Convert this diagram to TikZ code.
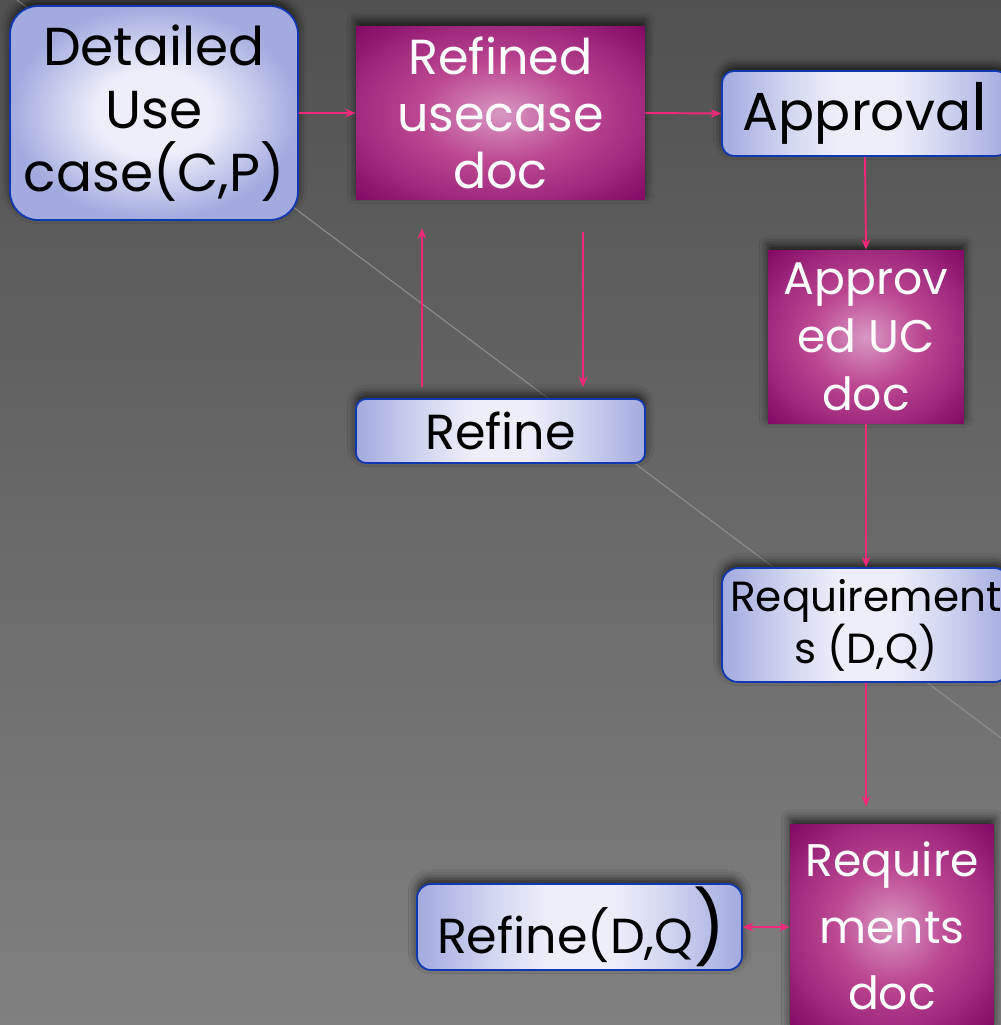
\documentclass[tikz,border=0pt]{standalone}
\usepackage{fontspec}
\setmainfont{Poppins}
\usetikzlibrary{positioning,shadows.blur,arrows.meta}
\definecolor{bgtop}{HTML}{515151}
\definecolor{bgbot}{HTML}{808080}
\definecolor{rule}{HTML}{8E8E8E}
\definecolor{flowpink}{HTML}{F0287A}
\definecolor{lavc}{HTML}{EEEEFA}
\definecolor{lavm}{HTML}{D4D7F1}
\definecolor{lave}{HTML}{A2AADF}
\definecolor{lavline}{HTML}{1038B0}
\definecolor{magc}{HTML}{D898C3}
\definecolor{magm}{HTML}{BC4892}
\definecolor{magd}{HTML}{A02A7E}
\definecolor{mage}{HTML}{820A64}
\pgfdeclareradialshading{lavglow}{\pgfpoint{0bp}{0bp}}{color(0bp)=(lavc); color(10bp)=(lavc); color(25bp)=(lave); color(50bp)=(lave)}
\pgfdeclarehorizontalshading{lavbar}{100bp}{color(0bp)=(lave); color(25bp)=(lave); color(37bp)=(lavm); color(45bp)=(lavc); color(55bp)=(lavc); color(63bp)=(lavm); color(75bp)=(lave); color(100bp)=(lave)}
\pgfdeclareradialshading{magglow}{\pgfpoint{0bp}{0bp}}{color(0bp)=(magc); color(14bp)=(magm); color(25bp)=(magd); color(35bp)=(mage); color(50bp)=(mage)}
\tikzstyle{glow} = [
    blur shadow={shadow xshift=0pt, shadow yshift=3pt,
        shadow blur radius=5pt, shadow opacity=70}]
\tikzstyle{lavbox} = [
    glow,
    draw=lavline,
    line width=1pt,
    shade,
    shading=lavbar,
    text=black,
    align=center,
    inner sep=0pt]
\tikzstyle{magbox} = [
    glow,
    shade,
    shading=magglow,
    text=white,
    align=center,
    inner sep=0pt]
\tikzstyle{flow} = [color=flowpink, line width=1.1pt, -{Stealth[length=6pt, width=5pt, inset=2pt]}]
\def\fs#1#2{\fontsize{#1}{#2}\selectfont}

\begin{document}
\begin{tikzpicture}[x=0.02cm, y=-0.02cm]
    \useasboundingbox (0,0) rectangle (1001,1025);
    \clip (0,0) rectangle (1001,1025);
    \fill[top color=bgtop, bottom color=bgbot] (0,0) rectangle (1001,1025);
    \draw[rule, line width=0.6pt] (17,0) -- (1001,738);

    \node[lavbox, shading=lavglow, rounded corners=0.56cm, minimum width=5.76cm, minimum height=4.28cm,
        font=\fs{30.4}{35.8}] (usecase) at (154,113) {Detailed\\Use\\case(C,P)};
    \node[magbox, minimum width=5.78cm, minimum height=3.48cm,
        font=\fs{28}{32.4}] (refdoc) at (500.5,113) {Refined\\usecase\\doc};
    \node[lavbox, rounded corners=0.24cm, minimum width=5.72cm, minimum height=1.7cm,
        font=\fs{30.4}{35.8}] (approval) at (865,113.5) {Approva{\fs{37}{40}l}};
    \node[magbox, minimum width=3.92cm, minimum height=3.48cm,
        font=\fs{26}{33}] (apprdoc) at (866,337) {Approv\\ed UC\\doc};
    \node[lavbox, rounded corners=0.2cm, minimum width=5.78cm, minimum height=1.28cm,
        font=\fs{28}{32.4}] (refine) at (500.5,431) {Refine};
    \node[lavbox, rounded corners=0.32cm, minimum width=5.76cm, minimum height=2.28cm,
        font=\fs{24}{29.6}] (reqs) at (866,625) {Requirement\\s (D,Q)};
    \node[magbox, minimum width=4.08cm, minimum height=4.08cm,
        font=\fs{26}{38}] (reqdoc) at (892,926) {Require\\ments\\doc};
    \node[lavbox, rounded corners=0.28cm, minimum height=1.72cm, text width=5.7cm, inner xsep=0.4cm,
        align=left, font=\fs{28}{32.4}] (refdq) at (579.5,927) {Refine(D,Q{\fs{40.6}{40})}};

    \draw[flow] (usecase.east) -- (refdoc.west);
    \draw[flow] (refdoc.east) -- (approval.west);
    \draw[flow] (approval.south) -- (apprdoc.north);
    \draw[flow] (apprdoc.south) -- (reqs.north);
    \draw[flow, shorten >=0.34cm] (reqs.south) -- (reqs.south |- reqdoc.north);
    \draw[flow, shorten <=0.22cm, shorten >=0.56cm]
        ([xshift=-1.57cm]refine.north) -- ([xshift=-1.57cm]refdoc.south);
    \draw[flow, shorten <=0.64cm, shorten >=0.22cm]
        ([xshift=1.65cm]refdoc.south) -- ([xshift=1.65cm]refine.north);
    \draw[flow, {Stealth[length=6pt, width=5pt, inset=2pt]}-{Stealth[length=6pt, width=5pt, inset=2pt]}]
        (refdq.east) -- (refdq.east -| reqdoc.west);
\end{tikzpicture}
\end{document}
